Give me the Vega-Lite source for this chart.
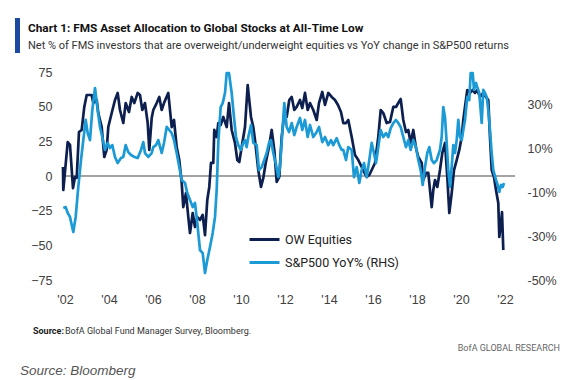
{
  "$schema": "https://vega.github.io/schema/vega-lite/v6.json",
  "width": 453,
  "height": 208,
  "autosize": {"type": "none"},
  "padding": {"left": 62, "top": 72, "right": 54, "bottom": 100},
  "background": "white",
  "config": {
    "view": {"stroke": null},
    "font": "Roboto",
    "axis": {"labelFont": "Liberation Sans", "labelFontSize": 12.5, "labelColor": "#404040", "grid": false, "domain": false, "ticks": false, "title": null, "labelOverlap": false, "labelFlush": false}
  },
  "datasets": {
    "ow": [
      {"t":2001.909,"v":6.5},{"t":2001.923,"v":-10.1},{"t":2002.123,"v":24.5},{"t":2002.227,"v":22.4},{"t":2002.364,"v":-8.7},{"t":2002.455,"v":-0.7},{"t":2002.532,"v":-1.4},{"t":2002.636,"v":31.7},{"t":2002.759,"v":33.2},{"t":2002.877,"v":49.8},{"t":2002.986,"v":58.4},{"t":2003.214,"v":58.4},{"t":2003.286,"v":52.6},{"t":2003.441,"v":54.8},{"t":2003.514,"v":45.4},{"t":2003.668,"v":35.3},{"t":2003.786,"v":13.7},{"t":2003.895,"v":18.8},{"t":2003.968,"v":35.3},{"t":2004.123,"v":45.4},{"t":2004.273,"v":54.8},{"t":2004.395,"v":59.9},{"t":2004.5,"v":47.6},{"t":2004.65,"v":38.2},{"t":2004.759,"v":52.6},{"t":2004.909,"v":46.2},{"t":2005.032,"v":57},{"t":2005.15,"v":52.6},{"t":2005.305,"v":59.9},{"t":2005.409,"v":58.4},{"t":2005.514,"v":47.6},{"t":2005.636,"v":52.6},{"t":2005.759,"v":38.2},{"t":2005.832,"v":18.8},{"t":2005.941,"v":41.8},{"t":2006.014,"v":47.6},{"t":2006.168,"v":52.6},{"t":2006.286,"v":57},{"t":2006.395,"v":47.6},{"t":2006.5,"v":52.6},{"t":2006.695,"v":59.9},{"t":2006.85,"v":35.3},{"t":2006.955,"v":40.4},{"t":2007.077,"v":20.9},{"t":2007.195,"v":11.5},{"t":2007.305,"v":-5},{"t":2007.377,"v":-22.4},{"t":2007.5,"v":-12.3},{"t":2007.605,"v":-29.6},{"t":2007.682,"v":-41.1},{"t":2007.805,"v":-26.7},{"t":2007.909,"v":-36.8},{"t":2008.014,"v":-29.6},{"t":2008.136,"v":-31.7},{"t":2008.259,"v":-28.1},{"t":2008.364,"v":-42.6},{"t":2008.468,"v":-17.3},{"t":2008.559,"v":-7.9},{"t":2008.636,"v":9.4},{"t":2008.741,"v":9.4},{"t":2008.786,"v":33.2},{"t":2008.895,"v":28.1},{"t":2008.968,"v":38.2},{"t":2009.077,"v":36.8},{"t":2009.195,"v":42.6},{"t":2009.35,"v":35.3},{"t":2009.455,"v":52.6},{"t":2009.577,"v":33.2},{"t":2009.727,"v":23.8},{"t":2009.832,"v":11.5},{"t":2009.923,"v":10.1},{"t":2010.032,"v":20.9},{"t":2010.182,"v":35.3},{"t":2010.305,"v":65.6},{"t":2010.455,"v":42.6},{"t":2010.559,"v":35.3},{"t":2010.636,"v":26},{"t":2010.786,"v":4.3},{"t":2010.909,"v":-7.9},{"t":2011.014,"v":-1.4},{"t":2011.123,"v":9.4},{"t":2011.273,"v":20.9},{"t":2011.395,"v":33.2},{"t":2011.514,"v":18.8},{"t":2011.623,"v":-4.3},{"t":2011.741,"v":-0.7},{"t":2011.85,"v":28.1},{"t":2011.968,"v":45.4},{"t":2012.077,"v":42.6},{"t":2012.195,"v":54.8},{"t":2012.305,"v":57},{"t":2012.423,"v":47.6},{"t":2012.532,"v":49.8},{"t":2012.682,"v":54.8},{"t":2012.786,"v":49},{"t":2012.909,"v":59.9},{"t":2013.032,"v":47.6},{"t":2013.136,"v":52.6},{"t":2013.286,"v":47.6},{"t":2013.441,"v":40.4},{"t":2013.545,"v":52.6},{"t":2013.695,"v":60.6},{"t":2013.818,"v":51.2},{"t":2013.968,"v":59.9},{"t":2014.123,"v":57},{"t":2014.273,"v":54.8},{"t":2014.409,"v":51.2},{"t":2014.545,"v":46.2},{"t":2014.65,"v":38.2},{"t":2014.773,"v":38.2},{"t":2014.877,"v":40.4},{"t":2015.032,"v":28.1},{"t":2015.182,"v":15.1},{"t":2015.332,"v":11.5},{"t":2015.486,"v":6.5},{"t":2015.591,"v":2.9},{"t":2015.714,"v":-0.7},{"t":2015.832,"v":0.7},{"t":2015.941,"v":4.3},{"t":2016.091,"v":9.4},{"t":2016.241,"v":28.1},{"t":2016.35,"v":47.6},{"t":2016.468,"v":45.4},{"t":2016.623,"v":38.2},{"t":2016.773,"v":38.9},{"t":2016.923,"v":49.8},{"t":2017.045,"v":49.8},{"t":2017.15,"v":52.6},{"t":2017.259,"v":55.5},{"t":2017.377,"v":40.4},{"t":2017.5,"v":31.7},{"t":2017.605,"v":33.2},{"t":2017.714,"v":23.8},{"t":2017.832,"v":33.2},{"t":2017.955,"v":20.2},{"t":2018.059,"v":13.7},{"t":2018.214,"v":9.4},{"t":2018.286,"v":-2.9},{"t":2018.409,"v":2.2},{"t":2018.514,"v":2.2},{"t":2018.591,"v":-10.1},{"t":2018.668,"v":-22.4},{"t":2018.741,"v":-10.1},{"t":2018.818,"v":-2.9},{"t":2018.923,"v":-7.9},{"t":2019.045,"v":4.3},{"t":2019.15,"v":16.6},{"t":2019.273,"v":23.8},{"t":2019.377,"v":-0.7},{"t":2019.468,"v":-26.7},{"t":2019.577,"v":-12.3},{"t":2019.682,"v":4.3},{"t":2019.805,"v":11.5},{"t":2019.923,"v":18.8},{"t":2020.032,"v":28.1},{"t":2020.105,"v":40.4},{"t":2020.182,"v":49.8},{"t":2020.286,"v":62},{"t":2020.409,"v":59.9},{"t":2020.532,"v":62},{"t":2020.636,"v":59.9},{"t":2020.741,"v":62},{"t":2020.864,"v":57},{"t":2021.014,"v":59.9},{"t":2021.136,"v":57},{"t":2021.241,"v":54.8},{"t":2021.318,"v":28.1},{"t":2021.395,"v":4.3},{"t":2021.5,"v":-0.7},{"t":2021.591,"v":-10.1},{"t":2021.695,"v":-19.5},{"t":2021.741,"v":-44},{"t":2021.818,"v":-33.9},{"t":2021.864,"v":-26},{"t":2021.923,"v":-53.4}
    ],
    "spx": [
      {"t":2001.923,"r":-17.1},{"t":2002.032,"r":-16.7},{"t":2002.123,"r":-19.4},{"t":2002.227,"r":-21.2},{"t":2002.377,"r":-28.1},{"t":2002.486,"r":-21.2},{"t":2002.605,"r":-7.5},{"t":2002.727,"r":4.8},{"t":2002.832,"r":13.9},{"t":2002.941,"r":23.1},{"t":2003.032,"r":17.1},{"t":2003.136,"r":13.9},{"t":2003.241,"r":27.6},{"t":2003.364,"r":37.7},{"t":2003.486,"r":27.6},{"t":2003.591,"r":19.9},{"t":2003.695,"r":15.3},{"t":2003.818,"r":9.4},{"t":2003.941,"r":12.6},{"t":2004.045,"r":10.3},{"t":2004.15,"r":11.6},{"t":2004.273,"r":6.2},{"t":2004.395,"r":3.4},{"t":2004.545,"r":5.7},{"t":2004.65,"r":6.2},{"t":2004.759,"r":11.6},{"t":2004.877,"r":8.4},{"t":2005.0,"r":7.1},{"t":2005.15,"r":6.2},{"t":2005.305,"r":5.7},{"t":2005.455,"r":9.4},{"t":2005.559,"r":13},{"t":2005.636,"r":8},{"t":2005.786,"r":6.2},{"t":2005.941,"r":8},{"t":2006.014,"r":10.7},{"t":2006.136,"r":11.6},{"t":2006.241,"r":13.9},{"t":2006.395,"r":8},{"t":2006.5,"r":12.6},{"t":2006.623,"r":19.9},{"t":2006.741,"r":18.5},{"t":2006.85,"r":17.1},{"t":2006.955,"r":13.9},{"t":2007.077,"r":8},{"t":2007.195,"r":1.6},{"t":2007.305,"r":-4.3},{"t":2007.455,"r":-5.7},{"t":2007.559,"r":-10.3},{"t":2007.682,"r":-13.5},{"t":2007.805,"r":-16.7},{"t":2007.909,"r":-14.8},{"t":2008.014,"r":-24},{"t":2008.136,"r":-36.3},{"t":2008.259,"r":-37.7},{"t":2008.364,"r":-46.8},{"t":2008.468,"r":-40.9},{"t":2008.591,"r":-34.9},{"t":2008.714,"r":-28.5},{"t":2008.818,"r":-21.2},{"t":2008.895,"r":-8.9},{"t":2008.968,"r":12.6},{"t":2009.077,"r":29},{"t":2009.168,"r":30.8},{"t":2009.273,"r":35.4},{"t":2009.35,"r":44.5},{"t":2009.455,"r":44.5},{"t":2009.577,"r":35.4},{"t":2009.65,"r":27.6},{"t":2009.773,"r":15.3},{"t":2009.877,"r":11.6},{"t":2009.986,"r":9.4},{"t":2010.105,"r":12.6},{"t":2010.182,"r":13.9},{"t":2010.259,"r":10.7},{"t":2010.332,"r":15.3},{"t":2010.455,"r":20.8},{"t":2010.559,"r":12.6},{"t":2010.714,"r":11.6},{"t":2010.818,"r":0.2},{"t":2010.941,"r":1.6},{"t":2011.059,"r":4.8},{"t":2011.168,"r":8},{"t":2011.273,"r":12.6},{"t":2011.364,"r":13.9},{"t":2011.468,"r":8},{"t":2011.577,"r":3.4},{"t":2011.695,"r":-3},{"t":2011.773,"r":1.6},{"t":2011.877,"r":17.1},{"t":2011.968,"r":30.8},{"t":2012.077,"r":19.9},{"t":2012.182,"r":17.6},{"t":2012.305,"r":21.7},{"t":2012.423,"r":16.2},{"t":2012.532,"r":19.9},{"t":2012.682,"r":24},{"t":2012.786,"r":18.5},{"t":2012.909,"r":23.1},{"t":2013.032,"r":15.3},{"t":2013.136,"r":20.8},{"t":2013.286,"r":15.3},{"t":2013.441,"r":17.6},{"t":2013.545,"r":19.9},{"t":2013.695,"r":13},{"t":2013.818,"r":15.3},{"t":2013.968,"r":11.6},{"t":2014.091,"r":13.9},{"t":2014.195,"r":11.6},{"t":2014.35,"r":14.8},{"t":2014.468,"r":11.6},{"t":2014.577,"r":9.4},{"t":2014.65,"r":9.4},{"t":2014.773,"r":4.8},{"t":2014.877,"r":10.7},{"t":2015.032,"r":9.4},{"t":2015.136,"r":-3},{"t":2015.259,"r":1.6},{"t":2015.377,"r":-5.7},{"t":2015.486,"r":0.2},{"t":2015.591,"r":3.4},{"t":2015.714,"r":-3},{"t":2015.832,"r":4.8},{"t":2015.941,"r":12.6},{"t":2016.014,"r":9.4},{"t":2016.136,"r":3.4},{"t":2016.241,"r":10.7},{"t":2016.35,"r":18.5},{"t":2016.468,"r":15.3},{"t":2016.591,"r":17.1},{"t":2016.695,"r":15.3},{"t":2016.805,"r":19.4},{"t":2016.923,"r":21.7},{"t":2017.045,"r":23.1},{"t":2017.15,"r":21.7},{"t":2017.259,"r":19.9},{"t":2017.377,"r":15.3},{"t":2017.5,"r":10.7},{"t":2017.605,"r":13.9},{"t":2017.714,"r":9.4},{"t":2017.832,"r":13.9},{"t":2017.955,"r":10.7},{"t":2018.059,"r":4.8},{"t":2018.168,"r":0.2},{"t":2018.259,"r":-6.6},{"t":2018.364,"r":1.6},{"t":2018.468,"r":8},{"t":2018.559,"r":10.7},{"t":2018.668,"r":4.8},{"t":2018.773,"r":3.4},{"t":2018.895,"r":4.8},{"t":2019.045,"r":9.4},{"t":2019.123,"r":15.3},{"t":2019.195,"r":29},{"t":2019.273,"r":24.4},{"t":2019.35,"r":12.6},{"t":2019.423,"r":0.2},{"t":2019.5,"r":-7.5},{"t":2019.577,"r":1.6},{"t":2019.65,"r":11.6},{"t":2019.727,"r":8},{"t":2019.805,"r":13.9},{"t":2019.877,"r":23.1},{"t":2019.955,"r":15.3},{"t":2020.032,"r":13.9},{"t":2020.105,"r":18.5},{"t":2020.182,"r":23.1},{"t":2020.286,"r":33.6},{"t":2020.377,"r":32.2},{"t":2020.441,"r":44.5},{"t":2020.532,"r":44.5},{"t":2020.591,"r":36.8},{"t":2020.682,"r":40},{"t":2020.741,"r":38.1},{"t":2020.832,"r":35.4},{"t":2020.895,"r":27.6},{"t":2020.941,"r":21.7},{"t":2021.014,"r":36.8},{"t":2021.091,"r":35.4},{"t":2021.168,"r":33.6},{"t":2021.241,"r":27.6},{"t":2021.318,"r":18.5},{"t":2021.395,"r":8},{"t":2021.468,"r":0.2},{"t":2021.591,"r":-4.3},{"t":2021.668,"r":-6.6},{"t":2021.741,"r":-9.8},{"t":2021.818,"r":-6.6},{"t":2021.895,"r":-7.5},{"t":2021.955,"r":-5.7}
    ]
  },
  "layer": [
    {
      "layer": [
        {
          "data": {"values": [{"z": 0}]},
          "mark": {"type": "rule", "color": "#4a4a4a", "strokeWidth": 1.2},
          "encoding": {
            "y": {
              "field": "z", "type": "quantitative",
              "scale": {"domain": [-75, 75], "nice": false},
              "axis": {"orient": "left", "values": [-75, -50, -25, 0, 25, 50, 75], "labelPadding": 10, "labelOverlap": false, "labelFlush": false}
            }
          }
        },
        {
          "data": {"name": "ow"},
          "mark": {"type": "line", "strokeWidth": 2.7, "strokeJoin": "round"},
          "encoding": {
            "x": {
              "field": "t", "type": "quantitative",
              "scale": {"domain": [2001.864, 2022.455], "nice": false, "zero": false},
              "axis": {"values": [2002, 2004, 2006, 2008, 2010, 2012, 2014, 2016, 2018, 2020, 2022], "labelExpr": "\"'\" + substring(toString(datum.value), 2)", "labelPadding": 13, "labelOverlap": false}
            },
            "y": {
              "field": "v", "type": "quantitative",
              "scale": {"domain": [-75, 75], "nice": false},
              "axis": {"orient": "left", "values": [-75, -50, -25, 0, 25, 50, 75], "labelPadding": 10, "labelOverlap": false, "labelFlush": false}
            },
            "color": {
              "datum": "OW Equities",
              "scale": {"domain": ["OW Equities", "S&P500 YoY% (RHS)"], "range": ["#0c1f4f", "#1b9ad6"]},
              "legend": {"orient": "none", "legendX": 186, "legendY": 151, "title": null, "symbolType": "stroke", "symbolSize": 900, "symbolStrokeWidth": 3, "labelFont": "Roboto", "labelFontSize": 12.5, "labelColor": "#222222", "rowPadding": 0, "labelOffset": 4, "padding": 0}
            }
          }
        }
      ]
    },
    {
      "data": {"name": "spx"},
      "mark": {"type": "line", "strokeWidth": 2.7, "strokeJoin": "round"},
      "encoding": {
        "x": {"field": "t", "type": "quantitative"},
        "y": {
          "field": "r", "type": "quantitative",
          "scale": {"domain": [-50, 45], "nice": false, "zero": false},
          "axis": {"orient": "right", "values": [-50, -30, -10, 10, 30], "labelExpr": "datum.value + '%'", "labelPadding": 12, "labelOverlap": false, "labelFlush": false}
        },
        "color": {"datum": "S&P500 YoY% (RHS)"}
      }
    },
    {
      "data": {"values": [{"s": "Chart 1: FMS Asset Allocation to Global Stocks at All-Time Low"}]},
      "mark": {"type": "text", "font": "Roboto", "fontWeight": "bold", "fontSize": 11.8, "color": "#111111", "align": "left", "baseline": "alphabetic", "x": -34, "y": -40},
      "encoding": {"text": {"field": "s"}}
    },
    {
      "data": {"values": [{"s": "Net % of FMS investors that are overweight/underweight equities vs YoY change in S&P500 returns"}]},
      "mark": {"type": "text", "font": "Roboto", "fontSize": 11, "color": "#333333", "align": "left", "baseline": "alphabetic", "x": -34, "y": -23},
      "encoding": {"text": {"field": "s"}}
    },
    {
      "data": {"values": [{"s": "Source:"}]},
      "mark": {"type": "text", "font": "Roboto", "fontWeight": "bold", "fontSize": 9, "color": "#222222", "align": "left", "baseline": "middle", "x": -29, "y": 259},
      "encoding": {"text": {"field": "s"}}
    },
    {
      "data": {"values": [{"s": "BofA Global Fund Manager Survey, Bloomberg."}]},
      "mark": {"type": "text", "font": "Roboto", "fontSize": 9, "color": "#333333", "align": "left", "baseline": "middle", "x": 3, "y": 259},
      "encoding": {"text": {"field": "s"}}
    },
    {
      "data": {"values": [{"s": "BofA GLOBAL RESEARCH"}]},
      "mark": {"type": "text", "font": "Roboto", "fontSize": 9, "color": "#666666", "align": "right", "baseline": "middle", "x": 498, "y": 276},
      "encoding": {"text": {"field": "s"}}
    },
    {
      "data": {"values": [{"s": "Source: Bloomberg"}]},
      "mark": {"type": "text", "font": "Liberation Sans", "fontStyle": "italic", "fontSize": 13.5, "color": "#555555", "align": "left", "baseline": "middle", "x": -42, "y": 299},
      "encoding": {"text": {"field": "s"}}
    },
    {
      "data": {"values": [{"b": 1}]},
      "mark": {"type": "rect", "color": "#1c4aa0", "x": -47, "x2": -42, "y": -54, "y2": -19},
      "encoding": {}
    }
  ],
  "resolve": {"scale": {"y": "independent"}}
}
